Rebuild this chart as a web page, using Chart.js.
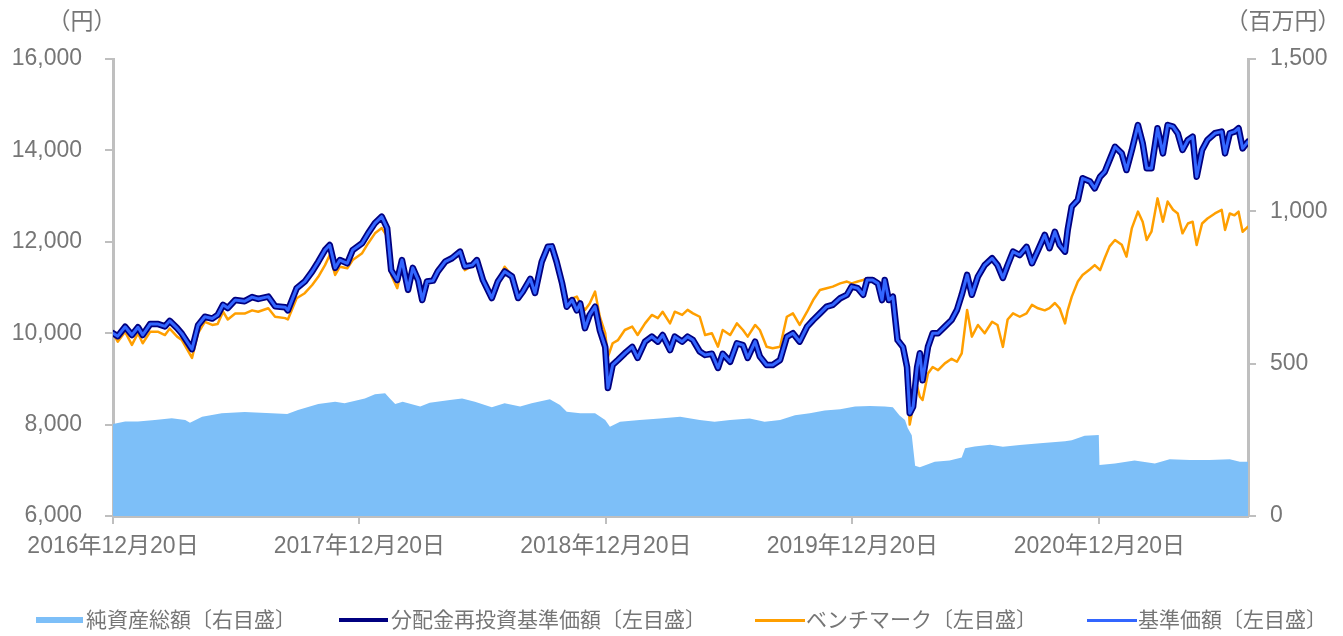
<!DOCTYPE html>
<html><head><meta charset="utf-8">
<script src="https://cdn.jsdelivr.net/npm/chart.js@4/dist/chart.umd.min.js"></script>
<style>
html,body{margin:0;padding:0;background:#fff;}
#wrap{position:relative;width:1343px;height:636px;overflow:hidden;}
#c{position:absolute;left:0;top:0;}
.ttl{position:absolute;top:6px;transform:translateX(-50%);font-family:'Noto Sans CJK JP',sans-serif;font-size:23px;line-height:26px;color:#767676;white-space:nowrap;}
.lg{position:absolute;top:606px;font-family:'Noto Sans CJK JP',sans-serif;font-size:21px;line-height:24px;color:#767676;white-space:nowrap;}
.sw{position:absolute;}
</style></head>
<body>
<div id="wrap">
<canvas id="c" width="1343" height="636"></canvas>
<div class="ttl" style="left:82px">（円）</div>
<div class="ttl" style="left:1283px">（百万円）</div>
<div id="legend"></div>
</div>
<script>
// x values: days since 2016-12-20
const tickDays = [0, 365, 730, 1095, 1461];
const tickLabels = ['2016年12月20日', '2017年12月20日', '2018年12月20日', '2019年12月20日', '2020年12月20日'];
const leftTicks = [6000, 8000, 10000, 12000, 14000, 16000];
const rightTicks = [0, 500, 1000, 1500];
const seriesNames = ['純資産総額〔右目盛〕', '分配金再投資基準価額〔左目盛〕', 'ベンチマーク〔左目盛〕', '基準価額〔左目盛〕'];

const lineDays = [0,7,18,28,37,44,55,67,77,84,95,102,117,126,136,147,155,163,170,181,195,206,215,230,240,255,259,272,284,295,304,314,321,329,336,347,355,369,378,388,398,406,412,421,428,
437,444,452,458,465,474,481,492,502,514,521,532,539,548,561,570,580,591,600,607,618,625,635,644,650,657,665,672,680,687,692,699,706,714,721,729,733,740,748,758,769,777,788,798,807,814,825,832,843,851,
859,869,877,887,896,903,914,924,933,940,951,958,968,977,988,998,1007,1017,1028,1037,1047,1057,1066,1077,1087,1094,1103,1111,1117,1125,1133,1139,1143,1149,1155,1162,1170,1176,1180,1185,1191,1195,1199,1207,1214,1222,1232,1242,1250,1257,1265,1272,1281,1291,
1302,1310,1318,1325,1333,1343,1353,1361,1370,1380,1387,1395,1402,1410,1414,1420,1429,1436,1447,1454,1462,1469,1476,1484,1494,1501,1509,1518,1525,1531,1538,1547,1555,1562,1570,1577,1584,1592,1599,1605,1613,1621,1632,1642,1647,1654,1661,1667,1673,1681];

const reinvestNav = [10000,9935,10140,9960,10130,9960,10200,10200,10150,10270,10110,9990,9650,10175,10360,10320,10400,10620,10550,10725,10700,10790,10750,10800,10590,10570,10500,10985,11130,11350,11565,11820,11930,11430,11600,11530,11820,11970,12190,12410,12550,12300,11380,11165,11600,
10950,11430,11160,10725,11130,11150,11350,11565,11640,11785,11460,11490,11600,11160,10770,11130,11350,11240,10770,10910,11190,10880,11565,11890,11900,11565,11100,10580,10725,10500,10650,10110,10400,10580,10065,9700,8800,9305,9415,9560,9700,9460,9815,9925,9815,9960,9630,9925,9815,9925,
9850,9600,9525,9550,9240,9550,9375,9780,9740,9460,9815,9490,9305,9305,9415,9920,10000,9815,10145,10290,10435,10580,10620,10765,10840,11020,10985,10840,11165,11165,11090,10725,11165,10725,10800,9850,9700,9260,8250,8390,9260,9560,8970,9700,10000,10000,10145,10290,10510,10840,11275,10840,11240,11490,
11640,11490,11210,11490,11785,11710,11890,11530,11820,12150,11860,12220,11930,11785,12260,12770,12915,13390,13320,13170,13425,13535,13790,14080,13935,13570,14010,14555,14155,13610,13610,14485,13935,14555,14520,14375,14010,14230,14300,13425,14010,14230,14375,14410,13935,14375,14410,14485,14045,14190];

const nav = [10000,9935,10140,9960,10130,9960,10200,10200,10150,10270,10110,9990,9650,10175,10360,10320,10400,10620,10550,10725,10700,10790,10750,10800,10590,10570,10500,10985,11130,11350,11565,11820,11930,11430,11600,11530,11820,11970,12190,12410,12550,12300,11380,11165,11600,
10950,11430,11160,10725,11130,11150,11350,11565,11640,11785,11460,11490,11600,11160,10770,11130,11350,11240,10770,10910,11190,10880,11565,11890,11900,11565,11100,10580,10725,10500,10650,10110,10400,10580,10065,9700,8800,9305,9415,9560,9700,9460,9815,9925,9815,9960,9630,9925,9815,9925,
9850,9600,9525,9550,9240,9550,9375,9780,9740,9460,9815,9490,9305,9305,9415,9920,10000,9815,10145,10290,10435,10580,10620,10765,10840,11020,10985,10840,11165,11165,11090,10725,11165,10725,10800,9850,9700,9260,8250,8390,9260,9560,8970,9700,10000,10000,10145,10290,10510,10840,11275,10840,11240,11490,
11640,11490,11210,11490,11785,11710,11890,11530,11820,12150,11860,12220,11930,11785,12260,12770,12915,13390,13320,13170,13425,13535,13790,14080,13935,13570,14010,14555,14155,13610,13610,14485,13935,14555,14520,14375,14010,14230,14300,13425,14010,14230,14375,14410,13935,14375,14410,14485,14045,14190];

const benchmark = [10000,9815,10030,9745,10000,9780,10030,10030,9960,10100,9925,9850,9460,10000,10250,10180,10200,10470,10300,10430,10430,10500,10470,10545,10360,10330,10300,10765,10875,11055,11235,11490,11710,11275,11455,11420,11600,11750,11970,12185,12300,12120,11275,10985,11455,
10900,11400,11100,10800,11100,11200,11420,11540,11620,11720,11380,11480,11560,11180,10850,11150,11455,11260,10820,10950,11200,10930,11560,11860,11850,11500,11050,10725,10760,10800,10650,10510,10650,10910,10360,10000,9485,9780,9850,10070,10145,9960,10215,10400,10330,10470,10215,10470,10400,10510,
10435,10360,9960,10000,9705,10070,9960,10215,10070,9925,10180,10070,9705,9670,9705,10360,10435,10180,10470,10725,10945,10985,11020,11090,11130,11090,11130,11165,11200,11200,11130,10840,11165,10800,10840,9850,9700,9120,8000,8390,8830,8610,8540,9120,9260,9190,9340,9440,9375,9560,10510,9925,10180,10000,
10250,10180,9700,10300,10435,10360,10435,10620,10545,10500,10550,10660,10545,10215,10500,10800,11130,11275,11400,11490,11380,11650,11900,12040,11935,11675,12300,12660,12440,12040,12220,12950,12440,12880,12700,12620,12185,12400,12440,11930,12400,12510,12620,12700,12260,12620,12580,12660,12220,12330];

const assetDays = [0,18,37,62,87,107,114,132,161,195,235,258,274,304,329,343,373,388,403,410,418,429,455,469,499,517,536,561,580,603,620,647,662,672,692,714,729,736,751,780,810,840,869,891,914,943,965,988,1010,1032,1054,1077,1099,1121,1143,1155,1165,1173,1177,1183,1188,1195,1217,1239,1257,1262,1276,1299,1318,1343,1373,1410,1420,1439,1460,1461,1484,1513,1543,1565,1595,1624,1654,1669,1681];
const netAssets = [302,310,310,315,321,315,306,326,337,341,337,335,348,368,375,370,386,400,403,386,368,375,359,372,381,386,375,357,370,359,370,383,364,342,337,337,315,293,309,315,320,326,315,309,315,320,309,315,331,337,346,350,359,361,359,357,330,315,289,265,165,160,178,182,192,222,228,234,227,233,239,245,249,263,266,167,172,182,172,186,184,184,186,178,178];

const colors = { area: '#7dbff8', reinvest: '#000080', bench: '#ff9f00', nav: '#3366ff' };
const GRAY = '#767676', AXIS = '#bfbfbf';
const FONT = "'Liberation Sans', 'Noto Sans CJK JP', sans-serif";

const xy = (xs, ys) => xs.map((x, i) => ({ x: x, y: ys[i] }));

// HTML legend
const legendItems = [
  { name: seriesNames[0], color: colors.area, sl: 36, sw: 47, sh: 6, tl: 86 },
  { name: seriesNames[1], color: colors.reinvest, sl: 339, sw: 49, sh: 4, tl: 391 },
  { name: seriesNames[2], color: colors.bench, sl: 755, sw: 50, sh: 3, tl: 806 },
  { name: seriesNames[3], color: colors.nav, sl: 1087, sw: 50, sh: 3, tl: 1138 }
];
const lg = document.getElementById('legend');
legendItems.forEach(it => {
  const s = document.createElement('div');
  s.className = 'sw';
  s.style.cssText = `left:${it.sl}px;top:${620 - it.sh / 2}px;width:${it.sw}px;height:${it.sh}px;background:${it.color};`;
  lg.appendChild(s);
  const t = document.createElement('div');
  t.className = 'lg';
  t.style.left = it.tl + 'px';
  t.textContent = it.name;
  lg.appendChild(t);
});

const axisCommon = {
  grid: { drawOnChartArea: false, drawTicks: true, tickLength: 8, color: AXIS, lineWidth: 2 },
  border: { display: true, color: AXIS, width: 3 }
};

new Chart(document.getElementById('c'), {
  type: 'line',
  data: {
    datasets: [
      { label: seriesNames[3], data: xy(lineDays, nav), yAxisID: 'y', borderColor: colors.nav, borderWidth: 3, order: 0 },
      { label: seriesNames[1], data: xy(lineDays, reinvestNav), yAxisID: 'y', borderColor: colors.reinvest, borderWidth: 6.5, order: 1 },
      { label: seriesNames[2], data: xy(lineDays, benchmark), yAxisID: 'y', borderColor: colors.bench, borderWidth: 2.5, order: 2 },
      { label: seriesNames[0], data: xy(assetDays, netAssets), yAxisID: 'y1', borderWidth: 0, borderColor: colors.area, backgroundColor: colors.area, fill: 'origin', order: 3 }
    ]
  },
  options: {
    responsive: false,
    animation: false,
    events: [],
    layout: { padding: { top: 59, left: 0, right: 0, bottom: 0 } },
    elements: {
      point: { radius: 0 },
      line: { tension: 0, borderJoinStyle: 'round', borderCapStyle: 'round' }
    },
    plugins: { legend: { display: false }, tooltip: { enabled: false } },
    scales: {
      x: Object.assign({}, axisCommon, {
        type: 'linear', position: 'bottom', min: 0, max: 1681,
        afterBuildTicks: s => { s.ticks = tickDays.map(v => ({ value: v })); },
        afterFit: s => { s.height = 120; },
        ticks: {
          autoSkip: false, maxRotation: 0, padding: 9, color: GRAY,
          font: { family: FONT, size: 23 },
          callback: v => tickLabels[tickDays.indexOf(v)]
        }
      }),
      y: Object.assign({}, axisCommon, {
        type: 'linear', position: 'left', min: 6000, max: 16000,
        afterBuildTicks: s => { s.ticks = leftTicks.map(v => ({ value: v })); },
        afterFit: s => { s.width = 113; },
        ticks: { padding: 23, color: GRAY, font: { family: FONT, size: 23 }, callback: v => v.toLocaleString('en-US') }
      }),
      y1: Object.assign({}, axisCommon, {
        type: 'linear', position: 'right', min: 0, max: 1500,
        afterBuildTicks: s => { s.ticks = rightTicks.map(v => ({ value: v })); },
        afterFit: s => { s.width = 95; },
        ticks: { padding: 14, color: GRAY, font: { family: FONT, size: 23 }, callback: v => v.toLocaleString('en-US') }
      })
    }
  }
});
</script>
</body></html>
